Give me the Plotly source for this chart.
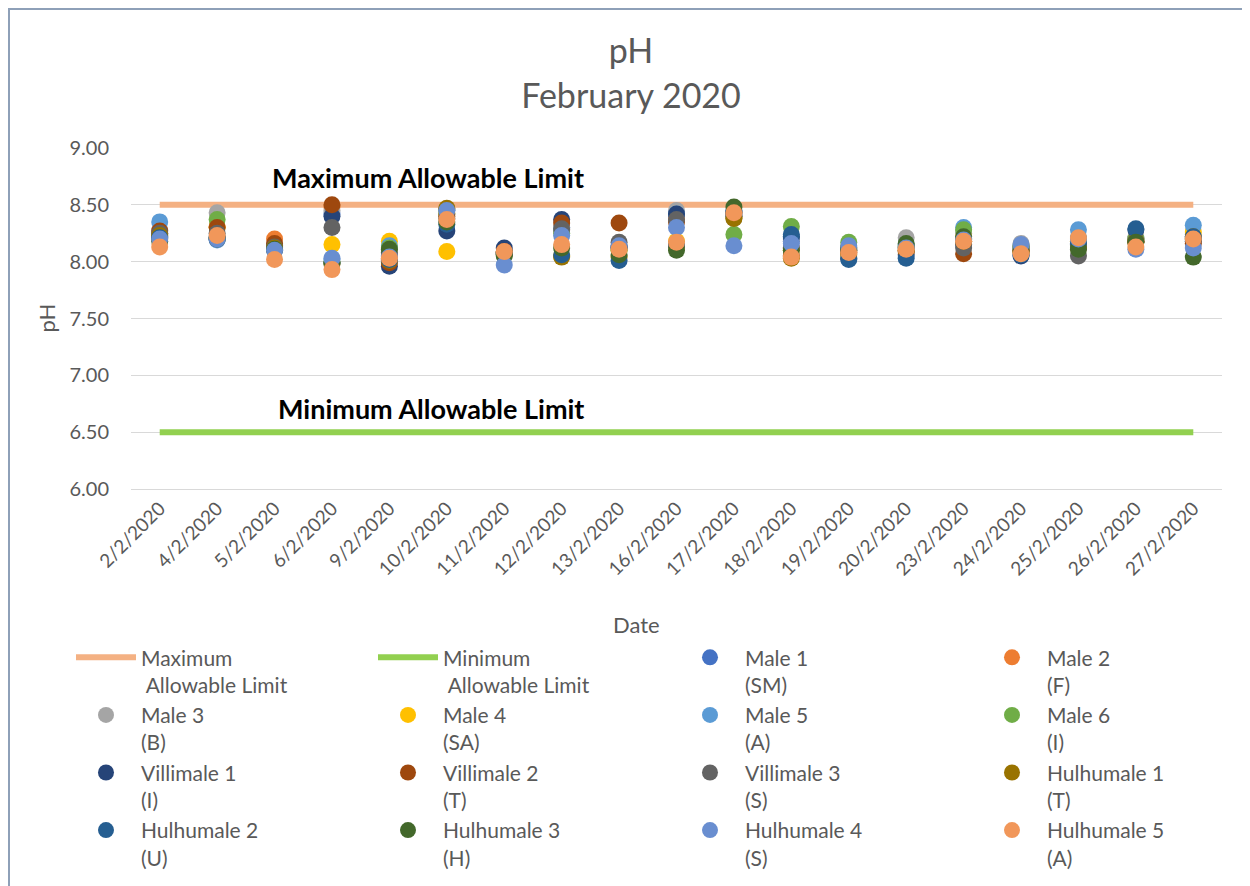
import plotly.graph_objects as go

dates = ["2/2/2020", "4/2/2020", "5/2/2020", "6/2/2020", "9/2/2020", "10/2/2020", "11/2/2020",
         "12/2/2020", "13/2/2020", "16/2/2020", "17/2/2020", "18/2/2020", "19/2/2020", "20/2/2020",
         "23/2/2020", "24/2/2020", "25/2/2020", "26/2/2020", "27/2/2020"]

max_limit = [8.5] * len(dates)
min_limit = [6.5] * len(dates)

male1 = [8.22, 8.20, 8.12, 8.42, 8.05, 8.45, 8.08, 8.30, 8.12, 8.40, 8.42, 8.18, 8.10, 8.12, 8.20, 8.10, 8.20, 8.20, 8.22]
male2 = [8.25, 8.31, 8.20, 8.48, 8.03, 8.42, 8.08, 8.28, 8.12, 8.38, 8.40, 8.12, 8.09, 8.10, 8.18, 8.08, 8.18, 8.18, 8.20]
male3 = [8.28, 8.43, 8.15, 8.45, 8.12, 8.46, 8.09, 8.30, 8.14, 8.45, 8.38, 8.20, 8.12, 8.21, 8.25, 8.16, 8.22, 8.22, 8.24]
male4 = [8.20, 8.30, 8.14, 8.15, 8.18, 8.09, 8.07, 8.05, 8.10, 8.18, 8.39, 8.10, 8.10, 8.12, 8.22, 8.10, 8.20, 8.20, 8.26]
male5 = [8.35, 8.19, 8.12, 8.02, 8.14, 8.46, 8.07, 8.28, 8.12, 8.42, 8.40, 8.22, 8.11, 8.15, 8.30, 8.12, 8.28, 8.20, 8.32]
male6 = [8.24, 8.37, 8.13, 8.00, 8.12, 8.42, 8.08, 8.25, 8.10, 8.15, 8.24, 8.31, 8.17, 8.14, 8.28, 8.14, 8.18, 8.20, 8.20]
villimale1 = [8.22, 8.22, 8.14, 8.40, 7.96, 8.27, 8.12, 8.37, 8.13, 8.42, 8.45, 8.22, 8.03, 8.06, 8.15, 8.05, 8.15, 8.28, 8.18]
villimale2 = [8.27, 8.30, 8.16, 8.50, 7.99, 8.40, 8.09, 8.34, 8.34, 8.35, 8.43, 8.05, 8.08, 8.09, 8.07, 8.10, 8.12, 8.18, 8.16]
villimale3 = [8.25, 8.25, 8.13, 8.30, 8.08, 8.38, 8.08, 8.29, 8.17, 8.37, 8.40, 8.12, 8.10, 8.13, 8.12, 8.10, 8.05, 8.18, 8.20]
hulhumale1 = [8.23, 8.20, 8.12, 7.98, 8.01, 8.47, 8.06, 8.04, 8.04, 8.13, 8.38, 8.03, 8.06, 8.10, 8.18, 8.09, 8.14, 8.17, 8.22]
hulhumale2 = [8.21, 8.20, 8.10, 7.99, 8.02, 8.33, 8.07, 8.06, 8.01, 8.15, 8.44, 8.24, 8.02, 8.03, 8.20, 8.06, 8.16, 8.29, 8.22]
hulhumale3 = [8.18, 8.21, 8.11, 7.99, 8.11, 8.35, 8.05, 8.12, 8.06, 8.10, 8.48, 8.10, 8.12, 8.16, 8.22, 8.13, 8.11, 8.17, 8.04]
hulhumale4 = [8.20, 8.20, 8.10, 8.03, 8.04, 8.45, 7.97, 8.23, 8.14, 8.30, 8.14, 8.16, 8.14, 8.12, 8.19, 8.15, 8.20, 8.11, 8.12]
hulhumale5 = [8.13, 8.23, 8.02, 7.93, 8.03, 8.37, 8.09, 8.15, 8.11, 8.17, 8.43, 8.04, 8.08, 8.11, 8.18, 8.07, 8.21, 8.13, 8.20]

series_names = ["Male 1<br>(SM)", "Male 2<br>(F)", "Male 3<br>(B)", "Male 4<br>(SA)", "Male 5<br>(A)",
                "Male 6<br>(I)", "Villimale 1<br>(I)", "Villimale 2<br>(T)", "Villimale 3<br>(S)",
                "Hulhumale 1<br>(T)", "Hulhumale 2<br>(U)", "Hulhumale 3<br>(H)", "Hulhumale 4<br>(S)",
                "Hulhumale 5<br>(A)"]
series_values = [male1, male2, male3, male4, male5, male6, villimale1, villimale2, villimale3,
                 hulhumale1, hulhumale2, hulhumale3, hulhumale4, hulhumale5]
series_colors = ["#4472C4", "#ED7D31", "#A5A5A5", "#FFC000", "#5B9BD5", "#70AD47", "#264478",
                 "#9E480E", "#636363", "#997300", "#255E91", "#43682B", "#698ED0", "#F1975A"]

FONT = "Lato"
GRAY = "#595959"

fig = go.Figure()
fig.add_trace(go.Scatter(x=dates, y=max_limit, mode="lines", name="Maximum<br> Allowable Limit",
                         line=dict(color="#F4B183", width=6)))
fig.add_trace(go.Scatter(x=dates, y=min_limit, mode="lines", name="Minimum<br> Allowable Limit",
                         line=dict(color="#92D050", width=6)))
for name, vals, col in zip(series_names, series_values, series_colors):
    fig.add_trace(go.Scatter(x=dates, y=vals, mode="markers", name=name,
                             marker=dict(color=col, size=17)))

fig.add_annotation(x=4.68, y=8.737, xref="x", yref="y", text="<b>Maximum Allowable Limit</b>",
                   showarrow=False, font=dict(family=FONT, size=27, color="black"))
fig.add_annotation(x=4.72, y=6.705, xref="x", yref="y", text="<b>Minimum Allowable Limit</b>",
                   showarrow=False, font=dict(family=FONT, size=27, color="black"))
fig.add_annotation(x=(636 - 131) / 1091, y=-(624 - 489) / 341, xref="paper", yref="paper",
                   xanchor="center", yanchor="middle",
                   text="Date", showarrow=False, font=dict(family=FONT, size=22, color=GRAY))
fig.add_annotation(x=(46 - 131) / 1091, y=0.5, xref="paper", yref="paper", textangle=-90,
                   xanchor="center", yanchor="middle",
                   text="pH", showarrow=False, font=dict(family=FONT, size=22, color=GRAY))

fig.add_shape(type="rect", xref="paper", yref="paper",
              x0=(9 - 131) / 1091, x1=(1320 - 131) / 1091,
              y0=-(960 - 489) / 341, y1=1 + (148 - 9) / 341,
              line=dict(color="#8EA0B8", width=2), fillcolor="rgba(0,0,0,0)", layer="below")

fig.update_layout(
    width=1242, height=878,
    paper_bgcolor="white", plot_bgcolor="white",
    font=dict(family=FONT, color=GRAY, size=19),
    title=dict(text="pH<br>February 2020", x=0.5016, xanchor="center", y=0.937, yanchor="top",
               font=dict(family=FONT, size=34, color=GRAY)),
    margin=dict(l=123, r=28, t=140, b=397, autoexpand=False),
    xaxis=dict(type="category", range=[-0.5, 18.5], tickangle=-45, showgrid=False,
               showline=True, linecolor="#D9D9D9", ticks="",
               tickfont=dict(size=19, color=GRAY)),
    yaxis=dict(range=[6, 9], dtick=0.5, tickformat=".2f", showgrid=True, gridcolor="#D9D9D9",
               zeroline=False, showline=False, tickfont=dict(size=20, color=GRAY), ticks="",
               ticklabelstandoff=21),
    legend=dict(orientation="h", x=-0.055, xanchor="left", y=-0.4345, yanchor="top",
                entrywidth=227, entrywidthmode="pixels", valign="top",
                font=dict(size=21, color=GRAY), itemwidth=60, tracegroupgap=0),
    showlegend=True,
)

fig.write_html("out.html")
